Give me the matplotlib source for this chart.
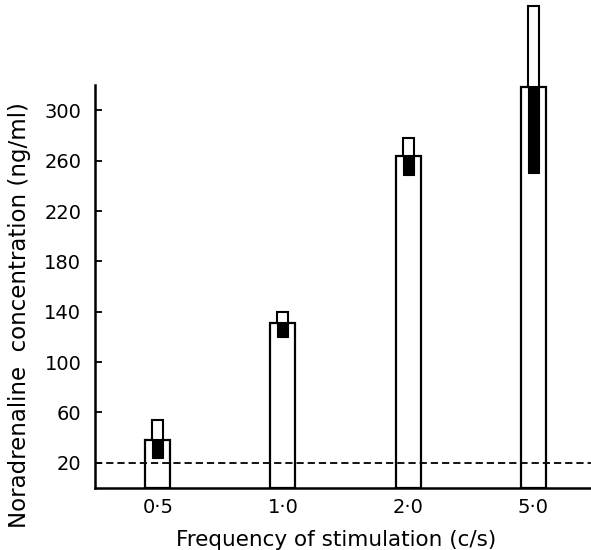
import matplotlib.pyplot as plt
import numpy as np

categories = ['0·5', '1·0', '2·0', '5·0']
means = [38, 131, 264, 319]
upper = [54, 140, 278, 383]
lower = [24, 120, 249, 250]
baseline = 20
yticks = [20, 60, 100, 140, 180, 220, 260, 300]

plt.rcParams['font.family'] = ['DejaVu Sans']

fig = plt.figure(figsize=(5.91, 5.5), dpi=100)
ax = fig.add_axes([0.161, 0.113, 0.839, 0.732])

x = np.arange(len(categories))
means_a = np.array(means)
upper_a = np.array(upper)
lower_a = np.array(lower)

ax.bar(x, means_a, width=0.2, color='white', edgecolor='black', linewidth=1.6, zorder=2)
ax.bar(x, upper_a - means_a, bottom=means_a, width=0.088, color='white',
       edgecolor='black', linewidth=1.5, zorder=3, clip_on=False)
ax.bar(x, means_a - lower_a, bottom=lower_a, width=0.088, color='black',
       edgecolor='black', linewidth=0.8, zorder=3)
ax.axhline(baseline, color='black', linestyle=(0, (4, 2.2)), linewidth=1.3, zorder=4)

ax.set_xlim(-0.5, 3.46)
ax.set_ylim(0, 320)
ax.set_xticks(x)
ax.set_xticklabels(categories, fontsize=14)
ax.set_yticks(yticks)
ax.set_yticklabels([str(v) for v in yticks], fontsize=14)
ax.tick_params(axis='x', length=0, pad=7)
ax.tick_params(axis='y', direction='in', length=5, width=1.3, pad=10)

for s in ['top', 'right']:
    ax.spines[s].set_visible(False)
for s in ['left', 'bottom']:
    ax.spines[s].set_linewidth(1.8)

ax.set_xlabel('Frequency of stimulation (c/s)', fontsize=15.5)
ax.xaxis.set_label_coords(0.485, -0.105)
ax.set_ylabel('Noradrenaline  concentration (ng/ml)', fontsize=16.5)
ax.yaxis.set_label_coords(-0.13, 0.43)

fig.savefig('out.png', dpi=100)
